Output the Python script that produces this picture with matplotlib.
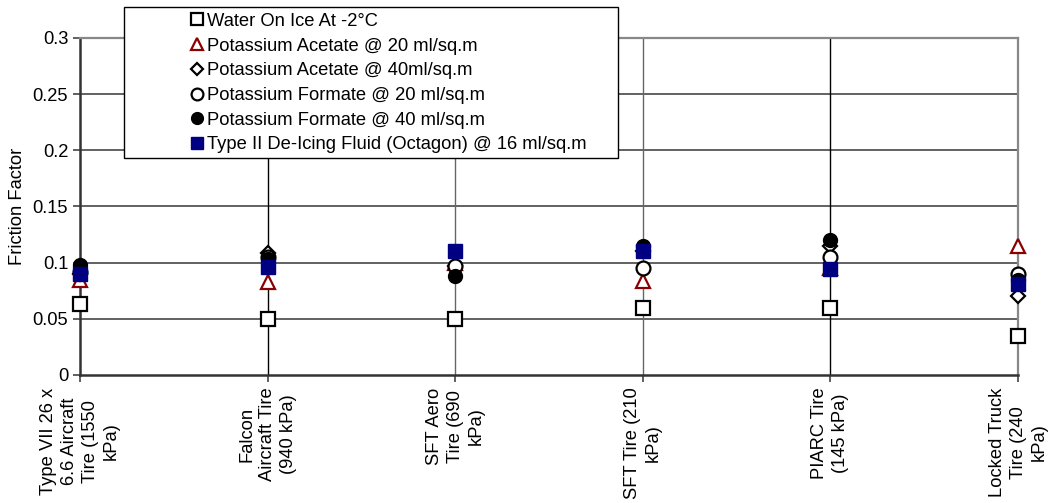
import numpy as np
import matplotlib
matplotlib.use('Agg')
import matplotlib.pyplot as plt
from matplotlib.patches import Rectangle

plt.rcParams['font.family'] = ['Liberation Sans', 'DejaVu Sans']

tires = ['Type VII 26 x\n6.6 Aircraft\nTire (1550\nkPa)',
         'Falcon\nAircraft Tire\n(940 kPa)',
         'SFT Aero\nTire (690\nkPa)',
         'SFT Tire (210\nkPa)',
         'PIARC Tire\n(145 kPa)',
         'Locked Truck\nTire (240\nkPa)']

water_ice = [0.063, 0.050, 0.050, 0.060, 0.060, 0.035]
kac_20 = [0.085, 0.083, 0.100, 0.084, 0.095, 0.115]
kac_40 = [0.090, 0.109, 0.097, 0.110, 0.115, 0.070]
kfo_20 = [0.092, 0.105, 0.097, 0.095, 0.105, 0.090]
kfo_40 = [0.098, 0.103, 0.088, 0.115, 0.120, 0.085]
type2 = [0.090, 0.096, 0.110, 0.110, 0.094, 0.081]

yticks = [0, 0.05, 0.1, 0.15, 0.2, 0.25, 0.3]
ytick_labels = ['0', '0.05', '0.1', '0.15', '0.2', '0.25', '0.3']

fs = 13.2

fig = plt.figure(figsize=(10.52, 5.03), dpi=100)
ax = fig.add_axes([0.076, 0.2545, 0.8917, 0.67])

x = np.arange(len(tires))

# series drawn in legend order, last on top
series = [
    (water_ice, 'Water On Ice At -2\u00b0C',
     dict(marker='s', ms=10, mfc='white', mec='black', mew=1.6)),
    (kac_20, 'Potassium Acetate @ 20 ml/sq.m',
     dict(marker='^', ms=10, mfc='white', mec='#8B0000', mew=1.6)),
    (kac_40, 'Potassium Acetate @ 40ml/sq.m',
     dict(marker='D', ms=7, mfc='white', mec='black', mew=1.6)),
    (kfo_20, 'Potassium Formate @ 20 ml/sq.m',
     dict(marker='o', ms=10, mfc='white', mec='black', mew=1.6)),
    (kfo_40, 'Potassium Formate @ 40 ml/sq.m',
     dict(marker='o', ms=10, mfc='black', mec='black', mew=1.0)),
    (type2, 'Type II De-Icing Fluid (Octagon) @ 16 ml/sq.m',
     dict(marker='s', ms=10, mfc='#000080', mec='#000080', mew=1.0)),
]

handles = []
for k, (vals, name, style) in enumerate(series):
    h, = ax.plot(x, vals, linestyle='none', label=name, clip_on=False,
                 zorder=5 + k, **style)
    handles.append(h)

ax.set_xlim(0, 5)
ax.set_ylim(0, 0.3)
ax.set_yticks(yticks)
ax.set_yticklabels(ytick_labels)
ax.set_xticks(x)
ax.set_xticklabels(tires, rotation=90, ha='center', va='top',
                   multialignment='center', linespacing=1.3)
ax.tick_params(axis='both', labelsize=fs, direction='out', length=5,
               width=1.2, color='#444444')
ax.tick_params(axis='x', pad=4)
ax.set_ylabel('Friction Factor', fontsize=fs, labelpad=5)

# horizontal grid
for yv in yticks[1:-1]:
    ax.axhline(yv, color='#555555', lw=1.3, zorder=1)

# vertical lines at categories
vcolors = ['#000000', '#666666', '#666666', '#000000']
for xi, c in zip(x[1:-1], vcolors):
    ax.axvline(xi, color=c, lw=1.0, zorder=1)

for side in ['top', 'right']:
    ax.spines[side].set_color('#888888')
    ax.spines[side].set_linewidth(1.6)
for side in ['left', 'bottom']:
    ax.spines[side].set_color('#333333')
    ax.spines[side].set_linewidth(1.8)

# legend box
fig.patches.append(Rectangle((124 / 1052, 1 - 158 / 503), 494 / 1052, 151 / 503,
                             transform=fig.transFigure, facecolor='white',
                             edgecolor='black', lw=1.0, zorder=20))
leg = fig.legend(handles=handles, loc='upper left',
                 bbox_to_anchor=(178 / 1052, 1 - 0 / 503), frameon=False,
                 fontsize=fs, markerscale=0.85, handlelength=0.7,
                 handletextpad=0.2, labelspacing=0.42, borderpad=0.2)
leg.set_zorder(30)

fig.savefig('out.png', dpi=100)
